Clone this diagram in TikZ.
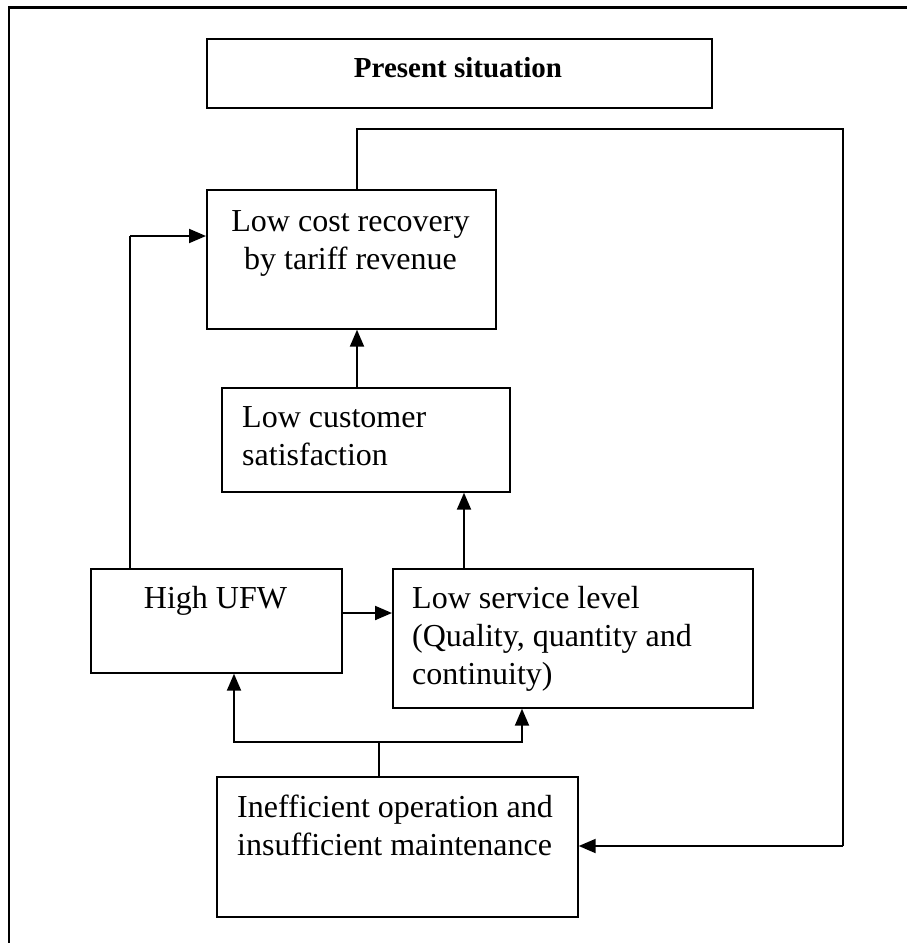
\documentclass[tikz,border=0pt]{standalone}
\usepackage{fontspec}
\setmainfont{Liberation Serif}
\usetikzlibrary{arrows.meta}
\begin{document}
\begin{tikzpicture}[x=1pt,y=-1pt,
  box/.style={draw, line width=1.7pt, inner sep=0pt, anchor=north west},
  txt/.style={inner sep=0pt, font=\fontsize{32}{38}\selectfont},
  thinline/.style={line width=1.3pt},
  arr/.style={line width=2pt, -{Triangle[length=17pt,width=14pt]}}]
\useasboundingbox (0,0) rectangle (907,943);

% page frame (top and left edges)
\draw[line width=2.4pt] (907,7.5) -- (9,7.5) -- (9,943);

% boxes
\node[box, minimum width=505pt, minimum height=69pt]  (title) at (206,38)  {};
\node[box, minimum width=289pt, minimum height=139pt] (lcr)   at (206,189) {};
\node[box, minimum width=288pt, minimum height=104pt] (lcs)   at (221,387) {};
\node[box, minimum width=251pt, minimum height=104pt] (ufw)   at (90,568)  {};
\node[box, minimum width=360pt, minimum height=139pt] (lsl)   at (392,568) {};
\node[box, minimum width=361pt, minimum height=140pt] (ineff) at (216,776) {};

% texts
\node[inner sep=0pt, anchor=base, font=\bfseries\fontsize{29}{34}\selectfont] (titletext) at (458,77) {Present situation};
\node[txt, anchor=base] (lcrtext) at (350.5,231)
  {\begin{tabular}[t]{@{}c@{}}Low cost recovery\\by tariff revenue\end{tabular}};
\node[txt, anchor=base west] (lcstext) at (242,427)
  {\begin{tabular}[t]{@{}l@{}}Low customer\\satisfaction\end{tabular}};
\node[txt, anchor=base] (ufwtext) at (215.5,608) {High UFW};
\node[txt, anchor=base west] (lsltext) at (412,608)
  {\begin{tabular}[t]{@{}l@{}}Low service level\\(Quality, quantity and\\continuity)\end{tabular}};
\node[txt, anchor=base west] (inefftext) at (237,817)
  {\begin{tabular}[t]{@{}l@{}}Inefficient operation and\\insufficient maintenance\end{tabular}};

% routing columns and rows
\coordinate (xa) at (357,0);
\coordinate (xb) at (464,0);
\coordinate (xc) at (130,0);
\coordinate (xd) at (379,0);
\coordinate (xe) at (234,0);
\coordinate (xf) at (522,0);
\coordinate (xh) at (843,0);
\coordinate (ya) at (0,613);
\coordinate (yb) at (0,236);
\coordinate (yc) at (0,742);
\coordinate (yg) at (0,129);
\coordinate (yi) at (0,846);

% connectors
\draw[arr] (lcs.north -| xa) -- (lcr.south -| xa);
\draw[arr] (lsl.north -| xb) -- (lcs.south -| xb);
\draw[arr] (ufw.east |- ya) -- (lsl.west |- ya);

\draw[thinline] (ufw.north -| xc) -- (xc |- yb);
\draw[arr] (xc |- yb) -- (lcr.west |- yb);

\draw[thinline] (ineff.north -| xd) -- (xd |- yc);
\draw[arr] (xd |- yc) -- (xe |- yc) -- (ufw.south -| xe);
\draw[arr] (xd |- yc) -- (xf |- yc) -- (lsl.south -| xf);

\draw[thinline] (lcr.north -| xa) -- (xa |- yg) -- (xh |- yg) -- (xh |- yi);
\draw[arr] (xh |- yi) -- (ineff.east |- yi);
\end{tikzpicture}
\end{document}
